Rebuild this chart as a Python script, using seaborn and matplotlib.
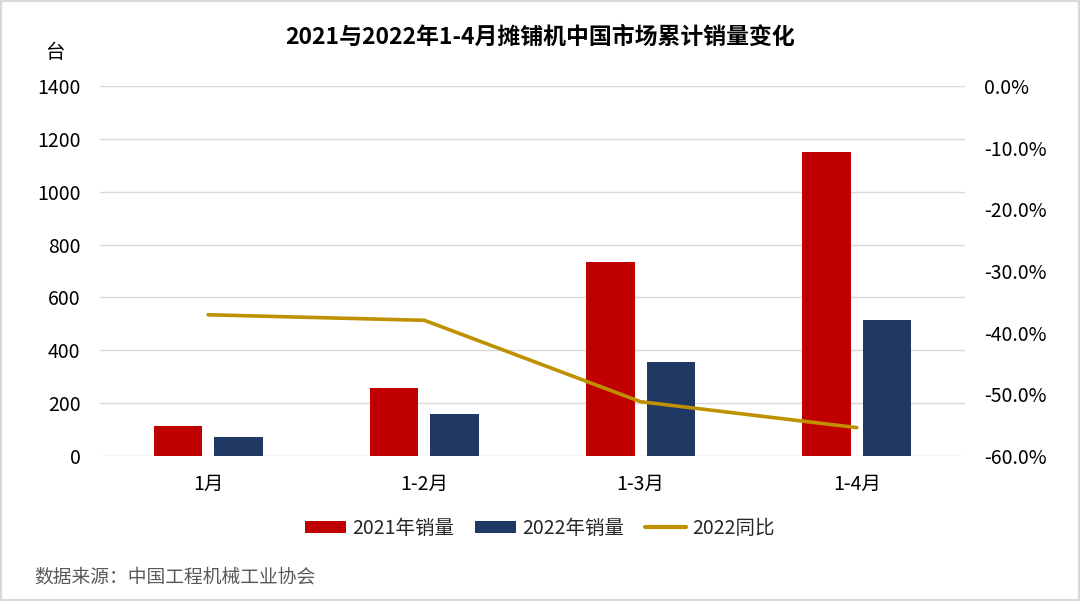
import numpy as np
import pandas as pd
import matplotlib
matplotlib.use("Agg")
import matplotlib.pyplot as plt
from matplotlib.patches import Patch, Rectangle
from matplotlib.lines import Line2D
from matplotlib.ticker import FuncFormatter
import seaborn as sns

categories = ["1月", "1-2月", "1-3月", "1-4月"]
sales_2021 = [113, 256, 734, 1150]
sales_2022 = [71, 158, 357, 513]
yoy_2022 = [-0.371, -0.380, -0.512, -0.554]
series_names = ["2021年销量", "2022年销量"]
line_name = "2022同比"
title = "2021与2022年1-4月摊铺机中国市场累计销量变化"
source = "数据来源：中国工程机械工业协会"

sns.set_theme(style="white")
plt.rcParams['font.family'] = ['Noto Sans CJK SC', 'DejaVu Sans']

df = pd.DataFrame({
    "cat": categories * 2,
    "series": [series_names[0]] * 4 + [series_names[1]] * 4,
    "value": sales_2021 + sales_2022,
})

red = "#C00000"
navy = "#1F3864"
gold = "#BF9000"
fs = 14

fig = plt.figure(figsize=(10.8, 6.01), dpi=100)
ax = fig.add_axes([0.0926, 0.2413, 0.8009, 0.6156])

sns.barplot(data=df, x="cat", y="value", hue="series", order=categories,
            hue_order=series_names, palette=[red, navy], width=0.56, gap=0.2,
            ax=ax, legend=False, edgecolor="none", saturation=1)
ax.set_ylim(0, 1400)
ax.set_xlim(-0.5, 3.5)
ax.set_yticks(range(0, 1401, 200))
ax.yaxis.grid(True, color="#D9D9D9", lw=1)
ax.set_axisbelow(True)
for s in ax.spines.values():
    s.set_visible(False)
ax.set_xlabel("")
ax.set_ylabel("")
ax.tick_params(axis="y", labelsize=fs, colors="#000000", pad=14, length=0)
ax.tick_params(axis="x", labelsize=fs, colors="#000000", pad=13, length=0)

ax2 = ax.twinx()
sns.lineplot(x=categories, y=yoy_2022, ax=ax2, color=gold, lw=2.6, sort=False)
ax2.set_ylim(-0.6, 0)
ax2.set_yticks(np.arange(-0.6, 0.001, 0.1))
ax2.yaxis.set_major_formatter(FuncFormatter(lambda v, p: f"{v*100:.1f}%" if abs(v) > 1e-9 else "0.0%"))
for s in ax2.spines.values():
    s.set_visible(False)
ax2.tick_params(axis="y", labelsize=fs, colors="#000000", pad=14, length=0)
ax2.set_xlim(-0.5, 3.5)

fig.text(0.5, 0.938, title, ha="center", va="center", fontsize=16.5, fontweight="bold", color="#000000")
fig.text(0.051, 0.913, "台", ha="center", va="center", fontsize=fs, color="#000000")
fig.text(0.032, 0.040, source, ha="left", va="center", fontsize=13.5, color="#595959")

handles = [Patch(facecolor=red, edgecolor="none"),
           Patch(facecolor=navy, edgecolor="none"),
           Line2D([0], [0], color=gold, lw=3)]
fig.legend(handles, series_names + [line_name], loc="center", bbox_to_anchor=(0.5, 0.121),
           ncol=3, frameon=False, fontsize=fs, handlelength=2.1, handleheight=0.55,
           columnspacing=1.1, handletextpad=0.3)

fig.patches.append(Rectangle((0.001, 0.001), 0.998, 0.998, transform=fig.transFigure,
                             fill=False, edgecolor="#D9D9D9", lw=1.5))
fig.savefig("out.png", dpi=100)
